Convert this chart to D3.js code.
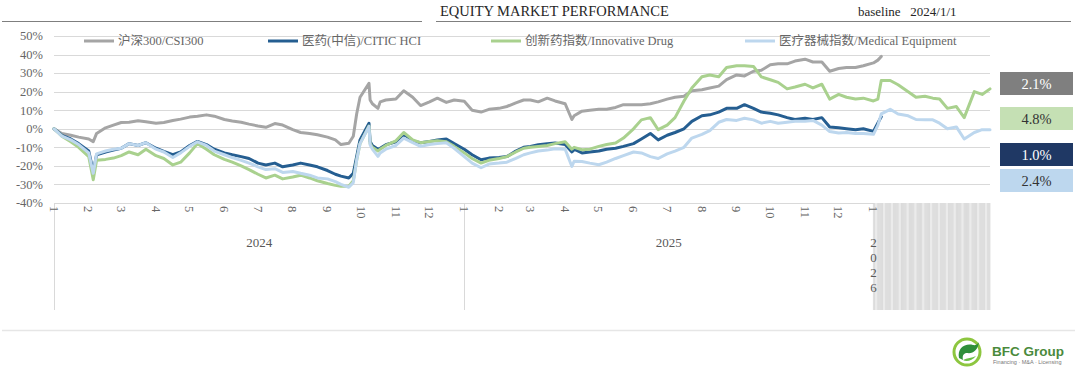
<!DOCTYPE html>
<html><head><meta charset="utf-8">
<script src="https://cdn.jsdelivr.net/npm/d3@7"></script>
<style>
body{margin:0;background:#fff}
svg{display:block}
text{font-family:"Liberation Serif","Noto Sans CJK SC",serif}
</style>
</head><body>
<svg id="chart" width="1080" height="375"></svg>
<script>
// ---------- DATA ----------
const dates = [
"2024-01-01","2024-01-08","2024-01-16","2024-01-23",
"2024-02-01","2024-02-05","2024-02-08","2024-02-16","2024-02-23",
"2024-03-01","2024-03-08","2024-03-16","2024-03-23",
"2024-04-01","2024-04-08","2024-04-16","2024-04-23",
"2024-05-01","2024-05-08","2024-05-16","2024-05-23",
"2024-06-01","2024-06-08","2024-06-16","2024-06-23",
"2024-07-01","2024-07-08","2024-07-16","2024-07-23",
"2024-08-01","2024-08-08","2024-08-16","2024-08-23",
"2024-09-01","2024-09-08","2024-09-13","2024-09-20","2024-09-24","2024-09-27","2024-09-30",
"2024-10-08","2024-10-09","2024-10-11","2024-10-16","2024-10-18","2024-10-23",
"2024-11-01","2024-11-08","2024-11-16","2024-11-23",
"2024-12-01","2024-12-08","2024-12-16","2024-12-23",
"2025-01-01","2025-01-08","2025-01-16","2025-01-23",
"2025-02-01","2025-02-08","2025-02-16","2025-02-23",
"2025-03-01","2025-03-08","2025-03-16","2025-03-23",
"2025-04-01","2025-04-07","2025-04-09","2025-04-16","2025-04-23",
"2025-05-01","2025-05-08","2025-05-16","2025-05-23",
"2025-06-01","2025-06-08","2025-06-16","2025-06-23",
"2025-07-01","2025-07-08","2025-07-16","2025-07-23",
"2025-08-01","2025-08-08","2025-08-16","2025-08-23",
"2025-09-01","2025-09-08","2025-09-16","2025-09-23",
"2025-10-01","2025-10-08","2025-10-16","2025-10-23",
"2025-11-01","2025-11-08","2025-11-16","2025-11-23",
"2025-12-01","2025-12-08","2025-12-16","2025-12-23",
"2026-01-01","2026-01-05","2026-01-08","2026-01-16","2026-01-23",
"2026-02-01","2026-02-08","2026-02-16","2026-02-23",
"2026-03-01","2026-03-08","2026-03-16","2026-03-23",
"2026-04-01","2026-04-08","2026-04-15"
];

// 沪深300 / CSI300 (%)
const csi300 = [
0,-2.5,-3.5,-4.5,
-5.5,-7,-2.5,0.5,2,
3.4,3.5,4.3,3.8,
3,3.4,4.5,5.2,
6.3,6.8,7.5,6.8,
5,4.2,3.5,2.5,
1.5,0.8,2.8,2,
-0.5,-2,-2.5,-3.2,
-4.5,-6,-8.5,-7.8,-4,8,17,
24.5,15.5,13.5,11,14.5,15.5,
16,20.5,17,12.5,
14.5,16.5,14.2,15.5,
14.8,10,9,10.5,
11,12,14,15.5,
15.5,14.5,16.5,15,
13.5,5,7,9.5,10,
10.5,10.5,11.5,13,
13,13,13.5,14.5,
16,17,17.5,20.5,
21,22,23,26.5,
29,28.5,31,31.5,
34.5,35,35,36.5,
37.5,36,36,31,
32.5,33,33,34,
35.5,37,39,null,null,
null,null,null,null,
null,null,null,null,
null,null,null
];

// 医药(中信) / CITIC HCI (%)
const citicHci = [
0,-3.5,-5.5,-8,
-12,-23,-14,-12.5,-11.5,
-10.5,-8,-9,-7.5,
-10.5,-12.2,-14,-12.5,
-9,-6.8,-8.5,-11,
-13,-14,-15,-16,
-18.5,-19.5,-18.5,-20.5,
-19.5,-18.5,-19.5,-20.5,
-22.5,-24.5,-25.5,-26.5,-24,-15,-6,
3,-6.8,-9,-11,-10.5,-8.6,
-7,-3,-6.5,-7.5,
-6.8,-6,-5.5,-8,
-11,-14,-16.7,-15.8,
-15.5,-15,-12,-10,
-9.5,-8.6,-8,-7.7,
-8.5,-12.5,-11,-13,-12.5,
-12,-11,-10.5,-9.5,
-8,-5.5,-2.5,-6,
-3.5,-2,0,4,
7,7.5,9,11,
11,13,11,9,
8.4,7.5,6,5,
5.7,5,6,1,
0.5,0,-0.5,0,
-1.4,3.2,6.5,null,null,
null,null,null,null,
null,null,null,null,
null,null,null
];

// 创新药指数 / Innovative Drug (%)
const innovDrug = [
0,-4,-7,-10,
-15,-27.5,-17,-16.5,-15.8,
-14.5,-12.5,-14,-11,
-14.5,-16,-19.5,-18,
-13,-8,-11,-14,
-16.5,-18,-20,-22,
-24.5,-26.5,-25,-27,
-26,-25,-26.5,-28,
-29.5,-30.5,-31,-31,-28,-17,-8,
1.5,-8,-10,-12,-11,-9,
-6.5,-2,-6,-7.5,
-6.8,-6.5,-7,-9.5,
-13,-16,-18.5,-17,
-16,-15,-12.5,-10.5,
-10,-9.5,-9,-8,
-7,-11,-10,-11.3,-11,
-9.5,-8.5,-7.7,-5,
0,4.8,6,-0.5,
2,6,15,22,
28,29,28,33,
34,34,33.6,28,
26.4,25,21.5,22.5,
24,22,24,16,
18.5,17,16,16.5,
15,16,26,26,23.7,
20,17,17.5,16.5,
16,11,12,6,
20,18.5,21.5
];

// 医疗器械指数 / Medical Equipment (%)
const medEquip = [
0,-4,-6,-8.5,
-13,-24,-13.5,-12,-11,
-10.5,-8,-9,-7.5,
-11,-12.5,-15.5,-13,
-9.5,-7,-9,-12,
-14,-15.5,-17,-18.5,
-20.5,-22,-21.5,-23.5,
-23,-24,-25,-26.5,
-27,-28.5,-30,-31.5,-29,-17,-8,
1.3,-8.6,-11,-14.9,-13,-11,
-9,-5,-7.5,-9.5,
-8.5,-8,-7.5,-10.5,
-15,-18.5,-21,-19,
-18.5,-18,-16,-14,
-13,-12,-11.5,-10.8,
-11,-20.3,-17.5,-17.6,-18.5,
-19.4,-18,-16,-14.5,
-12.5,-13,-15,-16,
-13.5,-12,-10,-5,
-3,-1,3.5,5,
4.5,5.7,4.8,3,
4,3,3.5,4,
4,4.5,2,-1.5,
-2.3,-2,-2.5,-2.5,
-3,2,8,10.5,8,
7,5,4.8,4.8,
3,0,1,-5.5,
-2,-0.5,-0.5
];

const seriesNames = ["沪深300/CSI300","医药(中信)/CITIC HCI","创新药指数/Innovative Drug","医疗器械指数/Medical Equipment"];
const seriesColors = ["#a5a5a5","#255e91","#a9d18e","#bdd7ee"];
const yTicks = [50,40,30,20,10,0,-10,-20,-30,-40];
const years = ["2024","2025"];
const year2026 = ["2","0","2","6"];
const boxLabels = ["2.1%","4.8%","1.0%","2.4%"];
const boxColors = ["#7f7f7f","#c5e0b4","#1f3864","#bdd7ee"];
const boxTextColors = ["#ffffff","#333333","#ffffff","#333333"];
const titleText = "EQUITY MARKET PERFORMANCE";
const baselineText = "baseline   2024/1/1";

// ---------- CHART ----------
const svg = d3.select("#chart");
const parse = d3.utcParse("%Y-%m-%d");
const D = dates.map(parse);

const x = d3.scaleUtc().domain([parse("2024-01-01"), parse("2026-04-15")]).range([54, 990]);
const y = d3.scaleLinear().domain([-40, 50]).range([203, 36]);

// header
svg.append("line").attr("x1",2).attr("x2",422).attr("y1",21.5).attr("y2",21.5).attr("stroke","#7f7f7f").attr("stroke-width",1);
svg.append("line").attr("x1",436).attr("x2",1071).attr("y1",21.5).attr("y2",21.5).attr("stroke","#7f7f7f").attr("stroke-width",1);
svg.append("text").attr("x",440).attr("y",16).attr("font-size",14.5).attr("fill","#262626").text(titleText);
svg.append("text").attr("x",858).attr("y",16).attr("font-size",13).attr("fill","#262626").style("white-space","pre").text(baselineText);

// gridlines
svg.append("g").selectAll("line").data(yTicks).join("line")
  .attr("x1",54).attr("x2",990)
  .attr("y1",d=>Math.round(y(d))+0.5).attr("y2",d=>Math.round(y(d))+0.5)
  .attr("stroke","#d9d9d9").attr("stroke-width",1);

// y labels
svg.append("g").selectAll("text").data(yTicks).join("text")
  .attr("x",43).attr("y",d=>y(d)).attr("dy","0.35em")
  .attr("text-anchor","end").attr("font-size",12.5).attr("fill","#666666")
  .text(d=>d+"%");

// 2026 hatched category region
const x26 = x(parse("2026-01-01"));
svg.append("rect").attr("x",x26).attr("y",203).attr("width",x.range()[1]-x26).attr("height",107).attr("fill","#ebebeb");
const days26 = d3.utcDay.range(parse("2026-01-01"), parse("2026-04-16")).filter(d=>d.getUTCDay()!==0 && d.getUTCDay()!==6);
svg.append("g").selectAll("line").data(days26).join("line")
  .attr("x1",d=>x(d)).attr("x2",d=>x(d)).attr("y1",203).attr("y2",310)
  .attr("stroke","#d0d0d0").attr("stroke-width",0.6);

// year separators
const seps = [parse("2024-01-01"), parse("2025-01-01")];
svg.append("g").selectAll("line").data(seps).join("line")
  .attr("x1",d=>Math.round(x(d))+0.5).attr("x2",d=>Math.round(x(d))+0.5).attr("y1",203).attr("y2",310)
  .attr("stroke","#d9d9d9").attr("stroke-width",1);

// month labels (rotated)
const months = d3.utcMonth.range(parse("2024-01-01"), parse("2026-01-02"));
svg.append("g").selectAll("text").data(months).join("text")
  .attr("transform",d=>`translate(${x(d)},206) rotate(90)`)
  .attr("dy","0.35em").attr("font-size",12.5).attr("fill","#666666")
  .text(d=>d.getUTCMonth()+1);

// year labels
svg.append("g").selectAll("text").data(years).join("text")
  .attr("x",(d)=>(x(parse(d+"-01-01"))+x(parse((+d+1)+"-01-01")))/2)
  .attr("y",247).attr("text-anchor","middle").attr("font-size",13).attr("fill","#595959")
  .text(d=>d);
svg.append("g").selectAll("text").data(year2026).join("text")
  .attr("x",x26).attr("y",(d,i)=>247+i*15).attr("text-anchor","middle").attr("font-size",13).attr("fill","#595959")
  .text(d=>d);

// lines
const allSeries = [csi300, citicHci, innovDrug, medEquip];
const line = d3.line().defined(d=>d.v!=null).x(d=>x(d.t)).y(d=>y(d.v));
allSeries.forEach((vals,i)=>{
  const data = vals.map((v,j)=>({t:D[j], v}));
  svg.append("path").datum(data).attr("d",line)
    .attr("fill","none").attr("stroke",seriesColors[i]).attr("stroke-width",3)
    .attr("stroke-linejoin","round").attr("stroke-linecap","round");
});

// legend
const legendX = [84, 268, 491, 745];
const lg = svg.append("g").selectAll("g").data(seriesNames).join("g")
  .attr("transform",(d,i)=>`translate(${legendX[i]},41)`);
lg.append("line").attr("x1",0).attr("x2",30).attr("y1",0).attr("y2",0)
  .attr("stroke",(d,i)=>seriesColors[i]).attr("stroke-width",3);
lg.append("text").attr("x",34).attr("dy","0.35em").attr("font-size",12.5).attr("fill","#666666").text(d=>d);

// value boxes
const boxY = [72,107,143,169];
const bg = svg.append("g").selectAll("g").data(boxLabels).join("g")
  .attr("transform",(d,i)=>`translate(1000,${boxY[i]})`);
bg.append("rect").attr("width",73).attr("height",23).attr("fill",(d,i)=>boxColors[i]);
bg.append("text").attr("x",36.5).attr("y",11.5).attr("dy","0.35em").attr("text-anchor","middle")
  .attr("font-size",14.5).attr("fill",(d,i)=>boxTextColors[i]).text(d=>d);

// footer line
svg.append("line").attr("x1",2).attr("x2",1075).attr("y1",330.5).attr("y2",330.5).attr("stroke","#e6e6e6").attr("stroke-width",1.5);

// logo
const logo = svg.append("g").attr("transform","translate(967,352)");
logo.append("circle").attr("r",13).attr("fill","none").attr("stroke","#8dc63f").attr("stroke-width",3);
logo.append("path").attr("d","M-8,6 C-10,-4 -2,-9 6,-7 C10,-6 12,-10 12,-10 C11,-2 6,2 0,1 C-3,1 -5,3 -4,8 Z").attr("fill","#2f8f3a");
logo.append("path").attr("d","M-4,8 C-1,10 5,9 9,4 C5,6 0,6 -4,8 Z").attr("fill","#6bbf45");
svg.append("text").attr("x",992).attr("y",356).attr("font-weight","bold")
  .attr("font-size",13.5).attr("fill","#4a8a3c").style("font-family","'Liberation Sans',Arial,sans-serif").text("BFC Group");
svg.append("text").attr("x",993).attr("y",364).attr("font-size",5.5).attr("fill","#777")
  .style("font-family","'Liberation Sans',Arial,sans-serif").text("Financing · M&A · Licensing");
</script>
</body></html>
